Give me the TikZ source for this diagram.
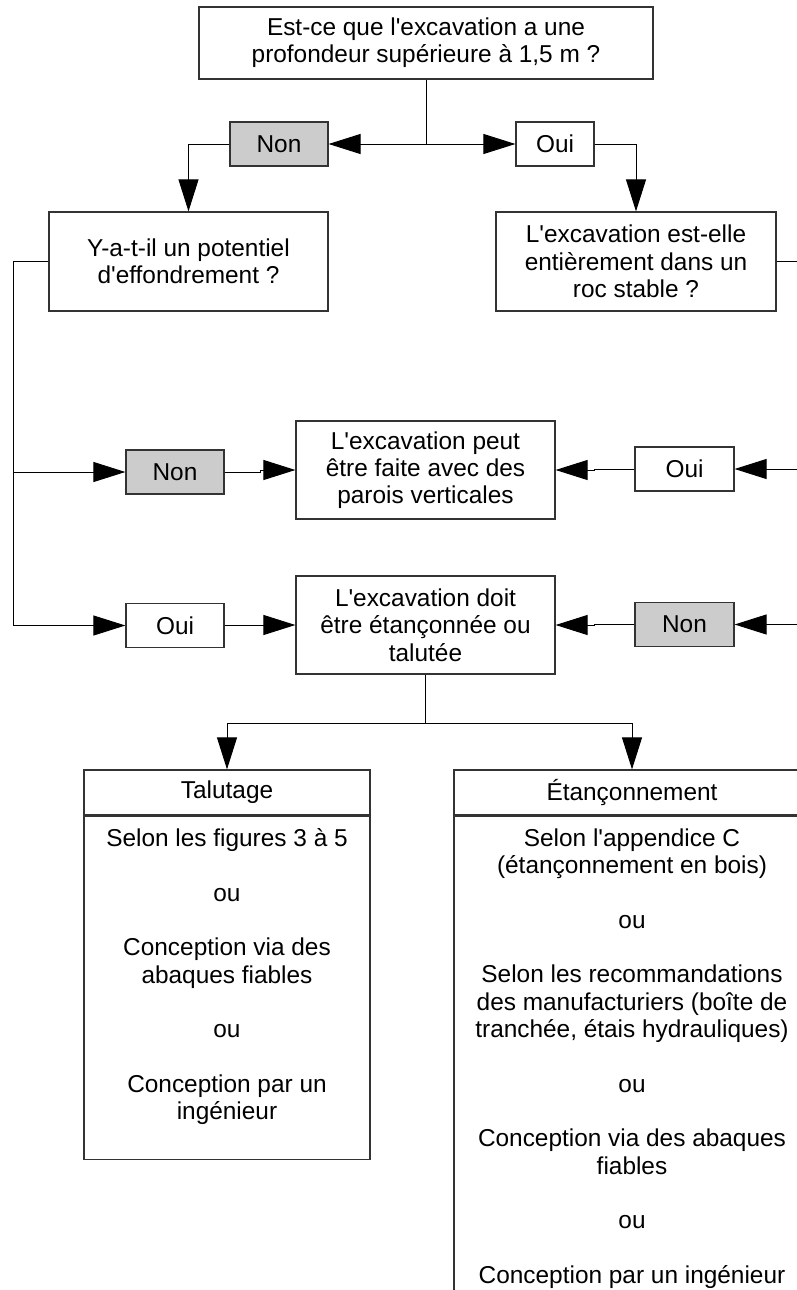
\documentclass[tikz,border=0pt]{standalone}
\usepackage{fontspec}
\setmainfont{Liberation Sans}[Ligatures=TeXOff]
\usetikzlibrary{arrows.meta,positioning}
\definecolor{answer-gray}{HTML}{CCCCCC}
\newcommand{\flowfont}{\fontsize{24.4}{27.3}\selectfont}
\tikzset{
    question-box/.style = {draw=black!80, fill=white, line width=1.2pt, rectangle, inner sep=0pt, align=center, font=\flowfont},
    answer-box/.style = {draw=black!80, fill=white, line width=1.2pt, rectangle, inner sep=0pt, minimum height=44pt, font=\flowfont},
    answer-box-no/.style = {answer-box, fill=answer-gray},
    list-head/.style = {draw=black!80, line width=1.2pt, rectangle, inner sep=0pt, minimum height=45pt, font=\flowfont},
    list-body/.style = {draw=black!80, line width=1.2pt, rectangle, inner sep=0pt},
    list-text/.style = {inner sep=0pt, align=center, font=\flowfont},
    flow-line/.style = {draw=black, line width=1pt},
    flow-arrow/.style = {flow-line, -{Triangle[length=32pt,width=20pt]}},
}

\begin{document}
\begin{tikzpicture}[x=1pt, y=-1pt]
\useasboundingbox (0,0) rectangle (797,1290);
\clip (0,0) rectangle (797,1290);

% questions and answers
\node[question-box, minimum width=454pt, minimum height=72pt] (depth) at (426,43) {Est-ce que l'excavation a une\\profondeur supérieure à 1,5 m ?};
\node[answer-box-no, minimum width=98pt] (no-depth) at (279,144) {Non};
\node[answer-box, minimum width=78pt] (yes-depth) at (555,144) {Oui};
\node[question-box, minimum width=279pt, minimum height=99pt] (collapse) at (188.5,261.5) {Y-a-t-il un potentiel\\d'effondrement ?};
\node[question-box, minimum width=280pt, minimum height=99pt] (rock) at (636,261.5) {L'excavation est-elle\\entièrement dans un\\roc stable ?};
\node[question-box, minimum width=259pt, minimum height=98pt] (vertical) at (425.5,470) {L'excavation peut\\être faite avec des\\parois verticales};
\node[answer-box-no, minimum width=98pt] (no-collapse) at (175,472) {Non};
\node[answer-box, minimum width=99pt] (yes-rock) at (684.5,469) {Oui};
\node[question-box, minimum width=259pt, minimum height=98pt] (support) at (425.5,625) {L'excavation doit\\être étançonnée ou\\talutée};
\node[answer-box, minimum width=98pt] (yes-collapse) at (175,625.5) {Oui};
\node[answer-box-no, minimum width=99pt] (no-rock) at (684.5,624.5) {Non};

% methods
\node[list-head, minimum width=286pt] (slope-head) at (227,792.5) {Talutage};
\node[list-body, minimum width=286pt, minimum height=343pt, below=0pt of slope-head] (slope-body) {};
\node[list-text, below=13pt of slope-body.north] (slope-text) {Selon les figures 3 à 5\\[27.3pt]ou\\[27.3pt]Conception via des\\abaques fiables\\[27.3pt]ou\\[27.3pt]Conception par un\\ingénieur};
\node[list-head, minimum width=356pt] (shore-head) at (632,792.5) {Étançonnement};
\node[list-body, minimum width=356pt, minimum height=520pt, below=0pt of shore-head] (shore-body) {};
\node[list-text, below=13pt of shore-body.north] (shore-text) {Selon l'appendice C\\(étançonnement en bois)\\[27.3pt]ou\\[27.3pt]Selon les recommandations\\des manufacturiers (boîte de\\tranchée, étais hydrauliques)\\[27.3pt]ou\\[27.3pt]Conception via des abaques\\fiables\\[27.3pt]ou\\[27.3pt]Conception par un ingénieur};

% connectors
\coordinate (depth-split) at (depth.south |- no-depth.east);
\coordinate (left-rail) at ([xshift=-35pt]collapse.west);
\coordinate (right-rail) at ([xshift=34pt]rock.east);
\coordinate (method-split) at ([yshift=-49pt]support.south);
\draw[flow-line] (depth.south) -- (depth-split);
\draw[flow-arrow] (depth-split) -- (no-depth.east);
\draw[flow-arrow] (depth-split) -- (yes-depth.west);
\draw[flow-arrow] (no-depth.west) -| (collapse.north);
\draw[flow-arrow] (yes-depth.east) -| (rock.north);
\draw[flow-arrow] (collapse.west) -- (left-rail) |- (yes-collapse.west);
\draw[flow-arrow] (left-rail |- no-collapse.west) -- (no-collapse.west);
\draw[flow-arrow] (rock.east) -- (right-rail) |- (no-rock.east);
\draw[flow-arrow] (right-rail |- yes-rock.east) -- (yes-rock.east);
\draw[flow-arrow] (no-collapse.east) -- ++(36,0) |- (vertical.west);
\draw[flow-arrow] (yes-collapse.east) -- ++(36,0) |- (support.west);
\draw[flow-arrow] (yes-rock.west) -- ++(-40,0) |- (vertical.east);
\draw[flow-arrow] (no-rock.west) -- ++(-40,0) |- (support.east);
\draw[flow-line] (support.south) -- (method-split);
\draw[flow-arrow] (method-split) -| (slope-head.north);
\draw[flow-arrow] (method-split) -| (shore-head.north);
\end{tikzpicture}
\end{document}
